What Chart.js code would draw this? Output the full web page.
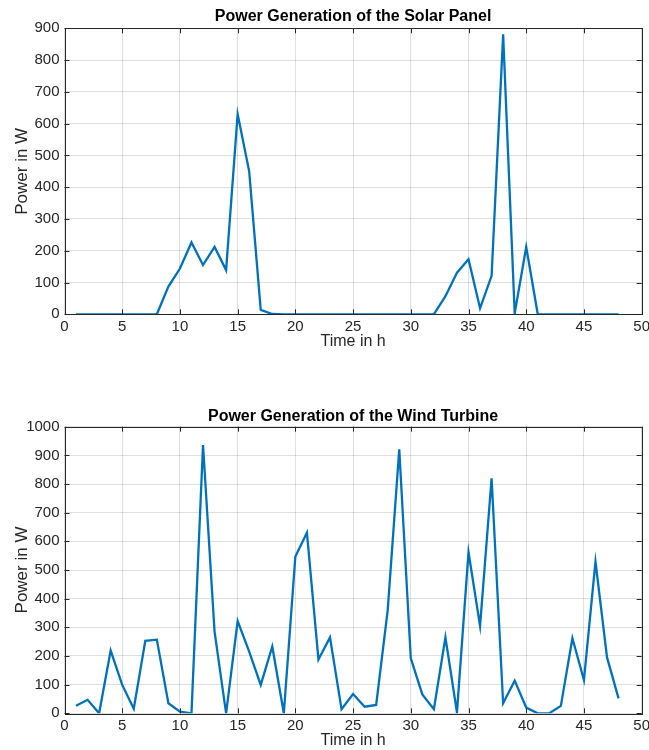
<!DOCTYPE html>
<html lang="en">
<head>
<meta charset="UTF-8">
<title>Power Generation</title>
<script src="https://cdn.jsdelivr.net/npm/chart.js"></script>
<style>
  body { margin: 0; background: #ffffff; overflow: hidden; }
  .wrap { position: absolute; left: 0; width: 654px; }
  #solarWrap { top: 0; height: 352px; }
  #windWrap { top: 400px; height: 350px; }
</style>
</head>
<body>
<div class="wrap" id="solarWrap"><canvas id="solarChart"></canvas></div>
<div class="wrap" id="windWrap"><canvas id="windChart"></canvas></div>

<script>
// hours of the day-pair (x values)
const hours = [1, 2, 3, 4, 5, 6, 7, 8, 9, 10, 11, 12, 13, 14, 15, 16, 17, 18, 19, 20, 21, 22, 23, 24,
               25, 26, 27, 28, 29, 30, 31, 32, 33, 34, 35, 36, 37, 38, 39, 40, 41, 42, 43, 44, 45, 46, 47, 48];

// solar panel power in W
const solarPower = [0, 0, 0, 0, 0, 0, 0, 0, 87, 144, 226, 155, 212, 139, 630, 450, 14, 1, 0, 0, 0, 0, 0, 0,
                    0, 0, 0, 0, 0, 0, 0, 0, 57, 131, 173, 19, 121, 881, 3, 212, 0, 0, 0, 0, 0, 0, 0, 0];

// wind turbine power in W
const windPower = [26, 47, 0, 219, 99, 16, 253, 257, 35, 6, 0, 936, 285, 0, 322, 215, 99, 233, 0, 547, 630, 188, 265, 14,
                   67, 23, 29, 360, 921, 192, 66, 14, 265, 3, 562, 305, 820, 35, 114, 20, 0, 0, 26, 262, 116, 529, 195, 52];

const xTicks = [0, 5, 10, 15, 20, 25, 30, 35, 40, 45, 50];
const solarTicks = [0, 100, 200, 300, 400, 500, 600, 700, 800, 900];
const windTicks = [0, 100, 200, 300, 400, 500, 600, 700, 800, 900, 1000];

const lineColor = '#0072BD';
const axisColor = '#262626';
const gridColor = 'rgba(38,38,38,0.15)';
const fontFamily = '"Liberation Sans", Arial, Helvetica, sans-serif';

// box around the axes with inward ticks on all four sides (like the original plot)
const boxPlugin = {
    id: 'boxAxes',
    afterLayout(chart) {
        // center the title over the plot area instead of the whole canvas
        if (chart.titleBlock) {
            chart.titleBlock.left = chart.chartArea.left;
            chart.titleBlock.right = chart.chartArea.right;
        }
    },
    afterDatasetsDraw(chart) {
        const ctx = chart.ctx;
        const a = chart.chartArea;
        const xs = chart.scales.x;
        const ys = chart.scales.y;
        const len = 5;
        ctx.save();
        ctx.strokeStyle = axisColor;
        ctx.lineWidth = 1;
        ctx.beginPath();
        xs.ticks.forEach(t => {
            const px = Math.round(xs.getPixelForValue(t.value)) + 0.5;
            ctx.moveTo(px, a.bottom); ctx.lineTo(px, a.bottom - len);
            ctx.moveTo(px, a.top); ctx.lineTo(px, a.top + len);
        });
        ys.ticks.forEach(t => {
            const py = Math.round(ys.getPixelForValue(t.value)) + 0.5;
            ctx.moveTo(a.left, py); ctx.lineTo(a.left + len, py);
            ctx.moveTo(a.right, py); ctx.lineTo(a.right - len, py);
        });
        ctx.stroke();
        ctx.strokeRect(Math.round(a.left) + 0.5, Math.round(a.top) + 0.5,
                       Math.round(a.right - a.left), Math.round(a.bottom - a.top));
        ctx.restore();
    }
};

function makeChart(canvasId, title, values, yTicks, opts) {
    const points = hours.map((h, i) => ({ x: h, y: values[i] }));
    return new Chart(document.getElementById(canvasId), {
        type: 'line',
        data: {
            datasets: [{
                data: points,
                borderColor: lineColor,
                borderWidth: 2.3,
                pointRadius: 0,
                tension: 0,
                fill: false
            }]
        },
        options: {
            responsive: true,
            maintainAspectRatio: false,
            animation: false,
            layout: { padding: { left: 0, right: 0, top: 0, bottom: 0 } },
            plugins: {
                legend: { display: false },
                tooltip: { enabled: false },
                title: {
                    display: true,
                    text: title,
                    color: '#000000',
                    font: { family: fontFamily, size: 16, weight: 'bold' },
                    padding: { top: 7.4, bottom: opts.titleBottom }
                }
            },
            scales: {
                x: {
                    type: 'linear',
                    min: 0,
                    max: 50,
                    afterBuildTicks: s => { s.ticks = xTicks.map(v => ({ value: v })); },
                    afterFit: s => { s.height = opts.xHeight; },
                    grid: { color: gridColor, drawTicks: false },
                    border: { display: false },
                    ticks: {
                        color: axisColor,
                        padding: 4,
                        maxRotation: 0,
                        callback: v => String(v),
                        font: { family: fontFamily, size: 15 }
                    },
                    title: {
                        display: true,
                        text: 'Time in h',
                        color: axisColor,
                        font: { family: fontFamily, size: 16 },
                        padding: { top: 0, bottom: opts.xTitleBottom }
                    }
                },
                y: {
                    type: 'linear',
                    min: yTicks[0],
                    max: yTicks[yTicks.length - 1],
                    afterBuildTicks: s => { s.ticks = yTicks.map(v => ({ value: v })); },
                    afterFit: s => { s.width = 64.5; },
                    grid: { color: gridColor, drawTicks: false },
                    border: { display: false },
                    ticks: {
                        color: axisColor,
                        padding: 5,
                        callback: v => String(v),
                        font: { family: fontFamily, size: 15 }
                    },
                    title: {
                        display: true,
                        text: 'Power in W',
                        color: axisColor,
                        font: { family: fontFamily, size: 17 },
                        padding: { top: 12.5, bottom: 0 }
                    }
                }
            }
        },
        plugins: [boxPlugin]
    });
}

makeChart('solarChart', 'Power Generation of the Solar Panel', solarPower, solarTicks,
          { titleBottom: 1.7, xHeight: 37.7, xTitleBottom: 1.3 });
makeChart('windChart', 'Power Generation of the Wind Turbine', windPower, windTicks,
          { titleBottom: 0.1, xHeight: 36.7, xTitleBottom: 0 });
</script>
</body>
</html>
